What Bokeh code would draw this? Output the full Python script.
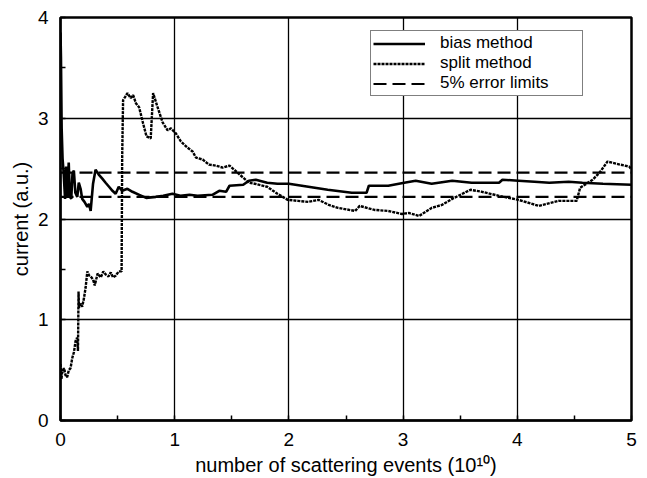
from bokeh.plotting import figure
from bokeh.models import Range1d, SingleIntervalTicker, Legend, LegendItem
from bokeh.embed import file_html
from bokeh.resources import INLINE

# ---- data ----
bias_x = [0.0, 0.004, 0.01, 0.018, 0.028, 0.04, 0.05, 0.06, 0.072, 0.082,
          0.094, 0.105, 0.117, 0.13, 0.147, 0.16, 0.176, 0.19, 0.21, 0.235,
          0.25, 0.264, 0.285, 0.307, 0.335, 0.366, 0.395, 0.425, 0.455, 0.483,
          0.51, 0.54, 0.586, 0.63, 0.69, 0.75, 0.835, 0.9, 0.98, 1.05,
          1.13, 1.2, 1.33, 1.39, 1.45, 1.48, 1.6, 1.65, 1.71, 1.81,
          1.9, 2.0, 2.17, 2.34, 2.55, 2.68, 2.7, 2.87, 3.01, 3.11,
          3.25, 3.43, 3.6, 3.84, 3.87, 4.01, 4.15, 4.28, 4.45, 4.57,
          4.75, 5.0]
bias_y = [3.85, 3.6, 2.9, 2.6, 2.45, 2.2, 2.52, 2.22, 2.56, 2.22,
          2.2, 2.45, 2.48, 2.26, 2.22, 2.36, 2.3, 2.2, 2.17, 2.12,
          2.15, 2.08, 2.35, 2.49, 2.44, 2.40, 2.36, 2.32, 2.28, 2.25,
          2.32, 2.28, 2.30, 2.27, 2.24, 2.21, 2.22, 2.23, 2.25, 2.23,
          2.24, 2.23, 2.24, 2.28, 2.27, 2.33, 2.34, 2.38, 2.39, 2.36,
          2.35, 2.35, 2.32, 2.29, 2.26, 2.26, 2.33, 2.33, 2.36, 2.38,
          2.35, 2.38, 2.36, 2.36, 2.39, 2.38, 2.37, 2.36, 2.37, 2.36,
          2.35, 2.34]

split_x = [0.0, 0.008, 0.015, 0.03, 0.044, 0.058, 0.073, 0.088, 0.103, 0.118,
           0.132, 0.145, 0.153, 0.158, 0.162, 0.176, 0.19, 0.205, 0.22, 0.235,
           0.25, 0.264, 0.285, 0.3, 0.325, 0.352, 0.375, 0.396, 0.42, 0.44,
           0.46, 0.485, 0.51, 0.535, 0.54, 0.548, 0.565, 0.586, 0.615, 0.636,
           0.66, 0.688, 0.723, 0.753, 0.79, 0.811, 0.85, 0.894, 0.938, 0.967,
           1.01, 1.054, 1.11, 1.157, 1.186, 1.245, 1.3, 1.36, 1.42, 1.48,
           1.55, 1.6, 1.65, 1.7, 1.81, 1.9, 1.99, 2.08, 2.17, 2.26,
           2.35, 2.43, 2.58, 2.62, 2.75, 2.87, 2.99, 3.05, 3.14, 3.25,
           3.34, 3.43, 3.59, 3.69, 3.84, 4.01, 4.19, 4.36, 4.52, 4.55,
           4.66, 4.72, 4.79, 4.9, 4.98, 5.0]
split_y = [0.56, 0.41, 0.48, 0.52, 0.45, 0.43, 0.50, 0.52, 0.62, 0.68,
           0.79, 0.82, 0.69, 1.28, 1.12, 1.16, 1.13, 1.21, 1.32, 1.48,
           1.44, 1.43, 1.40, 1.34, 1.46, 1.42, 1.48, 1.45, 1.43, 1.47,
           1.42, 1.44, 1.48, 1.48, 2.6, 3.18, 3.21, 3.25, 3.2, 3.23,
           3.15, 3.11, 2.95, 2.82, 2.8, 3.25, 3.11, 2.96, 2.88, 2.9,
           2.85, 2.77, 2.71, 2.67, 2.61, 2.59, 2.54, 2.53, 2.51, 2.53,
           2.46, 2.41, 2.36, 2.35, 2.32, 2.25, 2.19, 2.18, 2.17, 2.19,
           2.14, 2.11, 2.08, 2.13, 2.09, 2.08, 2.05, 2.06, 2.03, 2.11,
           2.14, 2.2, 2.29, 2.27, 2.23, 2.19, 2.13, 2.18, 2.18, 2.31,
           2.39, 2.46, 2.57, 2.54, 2.52, 2.49]

error_limits = [2.22, 2.46]
limit_x = [0.0, 5.0]

x_label = "number of scattering events (10\u00b9\u2070)"
y_label = "current (a.u.)"
legend_labels = ["bias method", "split method", "5% error limits"]

FONT = "Liberation Sans"

p = figure(width=647, height=478, output_backend="svg", toolbar_location=None,
           x_range=Range1d(0, 5), y_range=Range1d(0, 4),
           min_border_left=60, min_border_right=16, min_border_top=17, min_border_bottom=55)
p.background_fill_color = "white"
p.border_fill_color = "white"
p.outline_line_color = "black"
p.outline_line_width = 2.5

for ax in (p.xaxis[0], p.yaxis[0]):
    ax.ticker = SingleIntervalTicker(interval=1, num_minor_ticks=2)
    ax.major_tick_in = 0
    ax.major_tick_out = 0
    ax.minor_tick_in = 5
    ax.minor_tick_out = 0
    ax.minor_tick_line_color = "black"
    ax.minor_tick_line_width = 1.5
    ax.axis_line_color = "black"
    ax.axis_line_width = 2
    ax.major_label_text_font = FONT
    ax.major_label_text_font_size = "19px"
    ax.major_label_text_color = "black"
    ax.axis_label_text_font = FONT
    ax.axis_label_text_font_size = "20px"
    ax.axis_label_text_font_style = "normal"
    ax.axis_label_text_color = "black"

p.xaxis.axis_label = x_label
p.yaxis.axis_label = y_label
p.xaxis.major_label_standoff = 12
p.xaxis.axis_label_standoff = 5
p.yaxis.major_label_standoff = 12
p.yaxis.axis_label_standoff = 3

p.xgrid.ticker = SingleIntervalTicker(interval=1)
p.ygrid.ticker = SingleIntervalTicker(interval=1)
p.grid.grid_line_color = "black"
p.grid.grid_line_width = 1.3
p.grid.grid_line_alpha = 1.0

r_limits = []
for lv in error_limits:
    r_limits.append(p.line(limit_x, [lv, lv], line_color="black", line_width=2.2, line_dash="13 6"))
r_split = p.line(split_x, split_y, line_color="black", line_width=2.4, line_dash="3 1")
r_bias = p.line(bias_x, bias_y, line_color="black", line_width=2.6)

legend = Legend(items=[LegendItem(label=legend_labels[0], renderers=[r_bias]),
                       LegendItem(label=legend_labels[1], renderers=[r_split]),
                       LegendItem(label=legend_labels[2], renderers=[r_limits[0]])],
                location=(310, 324), margin=0, padding=2, spacing=0,
                glyph_width=52, glyph_height=17, label_height=17, label_standoff=15,
                label_width=140,
                label_text_font=FONT, label_text_font_size="17px", label_text_color="black",
                border_line_color="black", border_line_width=1.5, background_fill_color="white",
                background_fill_alpha=1.0)
p.add_layout(legend)

open("out.html", "w").write(file_html(p, INLINE))
